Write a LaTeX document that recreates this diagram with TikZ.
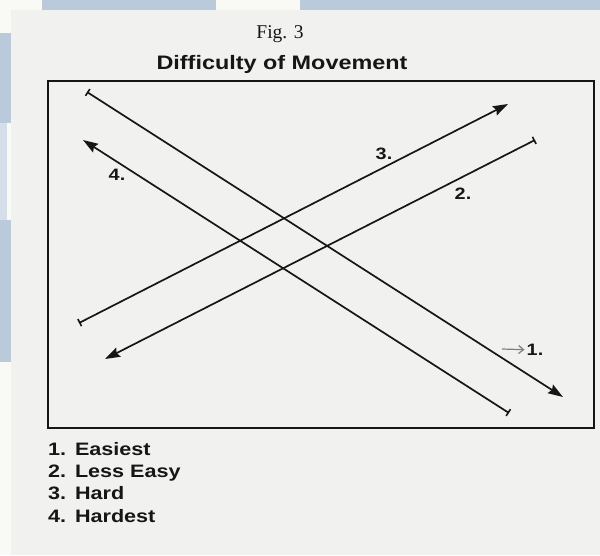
\documentclass[tikz,border=0pt]{standalone}
\usepackage{xcolor}
\usepackage{fontspec}
\setmainfont{Liberation Serif}
\newfontfamily\figsans[FakeStretch=1.2]{Liberation Sans}
\usepackage{tikz}
\usetikzlibrary{arrows.meta,positioning}

\definecolor{pagegray}{RGB}{241,241,240}
\definecolor{offwhite}{RGB}{249,249,246}
\definecolor{scanblue}{RGB}{186,202,218}
\definecolor{paleblue}{RGB}{214,223,233}
\definecolor{ink}{RGB}{22,22,22}

\begin{document}
\begin{tikzpicture}[x=1pt, y=-1pt, node distance=22.4pt,
    figno/.style={font=\fontsize{19.5}{20}\selectfont, text=ink, inner sep=0pt, anchor=base},
    heading/.style={font=\figsans\bfseries\fontsize{19.5}{20}\selectfont, text=ink, inner sep=0pt, anchor=base},
    item/.style={font=\figsans\bfseries\fontsize{18}{20}\selectfont, text=ink, inner sep=0pt,
        text width=140pt, align=left, text height=13pt, text depth=4pt},
    tag/.style={font=\figsans\bfseries\fontsize{16.5}{18}\selectfont, text=ink, inner sep=2pt},
    move/.style={draw=ink, line width=1.7pt, {Bar[width=8pt, line width=1.6pt]}-{Stealth[length=15pt, width=10pt, inset=2pt]}},
    pointer/.style={draw=black!50, line width=1.2pt, -{Straight Barb[length=5pt, width=8pt]}},
    frame/.style={draw=ink, line width=1.9pt}]
    \useasboundingbox (0,0) rectangle (600,555);
    \fill [offwhite] (0,0) rectangle (600,555);
    \fill [scanblue] (42,0) rectangle (216,10);
    \fill [scanblue] (300,0) rectangle (600,10);
    \fill [scanblue] (0,33) rectangle (11,123);
    \fill [paleblue] (0,123) rectangle (7,220);
    \fill [scanblue] (0,220) rectangle (11,362);
    \fill [pagegray] (11,10) rectangle (600,555);

    \node [figno] (fig) at (280,38) {Fig. 3};
    \node [heading] (title) at (282,69) {Difficulty of Movement};
    \draw [frame] (48,81) rectangle (594,428);

    \node [item] (easiest) at (118,450.5) {1. Easiest};
    \node [item, below of=easiest] (lesseasy) {2. Less Easy};
    \node [item, below of=lesseasy] (hard) {3. Hard};
    \node [item, below of=hard] (hardest) {4. Hardest};

    \node [tag] (four) at (117,175) {4.};
    \node [tag] (three) at (384,154) {3.};
    \node [tag] (two) at (463,194) {2.};
    \node [tag] (one) at (535,350) {1.};
    \coordinate (onefrom) at (502,349);

    \coordinate (easyA) at (87,92);
    \coordinate (easyB) at (563,397);
    \coordinate (lessA) at (535,140);
    \coordinate (lessB) at (105,359);
    \coordinate (hardA) at (79,323);
    \coordinate (hardB) at (508,104);
    \coordinate (hardestA) at (509,413);
    \coordinate (hardestB) at (83,140);

    \draw [move] (easyA) -- (easyB);
    \draw [move] (lessA) -- (lessB);
    \draw [move] (hardA) -- (hardB);
    \draw [move] (hardestA) -- (hardestB);
    \draw [pointer] (onefrom) -- (one);
\end{tikzpicture}
\end{document}
